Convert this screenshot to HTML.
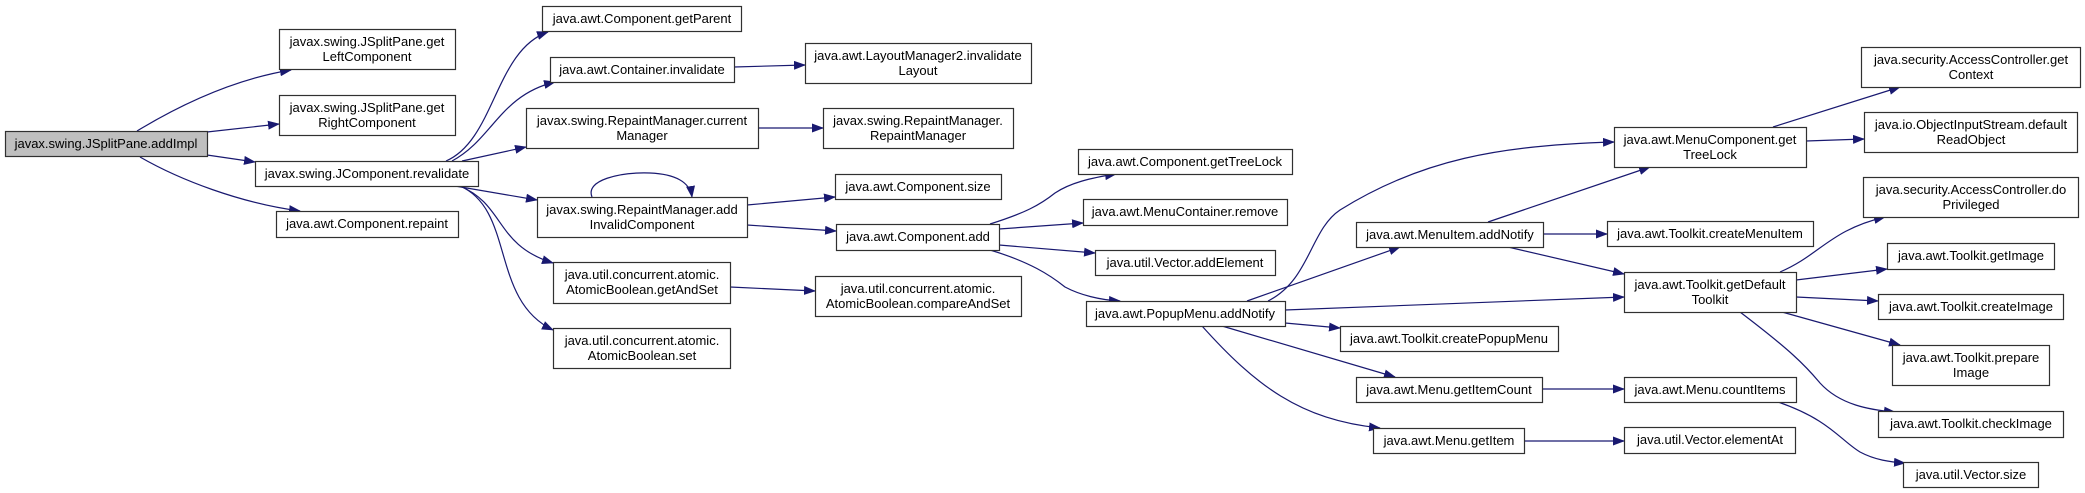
<!DOCTYPE html>
<html><head><meta charset="utf-8"><style>
html,body{margin:0;padding:0;background:#fff;}
svg{display:block;}
text{font-family:"Liberation Sans",Arial,sans-serif;font-size:13px;fill:#000;}
</style></head><body>
<svg width="2085" height="493" viewBox="0 0 2085 493" xmlns="http://www.w3.org/2000/svg">
<defs>
<marker id="a" markerUnits="userSpaceOnUse" markerWidth="12" markerHeight="9" refX="11" refY="4.5" orient="auto">
<path d="M0,0 L12,4.5 L0,9 z" fill="#191970"/>
</marker>
</defs>
<g fill="none" stroke="#191970" stroke-width="1.2" marker-end="url(#a)">
<path d="M137,131 C175,108 230,80 291,70"/>
<path d="M207,132 L279,124"/>
<path d="M207,155 L255,162"/>
<path d="M140,157 C180,180 240,203 300,211"/>
<path d="M446,161 C495,140 495,50 548,32"/>
<path d="M452,161 C492,140 500,95 555,82"/>
<path d="M462,161 L526,147"/>
<path d="M592,197 C585,180 620,172 650,173 C675,174 690,182 692,197"/>
<path d="M455,186 L537,200"/>
<path d="M460,186 C505,205 495,245 553,263"/>
<path d="M460,186 C515,210 490,300 553,330"/>
<path d="M734,67 L805,65"/>
<path d="M758,128 L823,128"/>
<path d="M747,205 L835,197"/>
<path d="M747,225 L836,231"/>
<path d="M730,287 L815,291"/>
<path d="M990,224 C1025,213 1040,205 1055,193 C1070,183 1090,178 1116,174"/>
<path d="M999,229 L1083,223"/>
<path d="M999,245 L1095,253"/>
<path d="M990,250 C1030,262 1050,275 1065,287 C1080,295 1100,300 1120,301"/>
<path d="M1268,301 C1310,280 1310,230 1340,210 C1420,160 1500,145 1614,142"/>
<path d="M1247,301 L1400,247"/>
<path d="M1285,310 L1624,297"/>
<path d="M1285,323 L1340,328"/>
<path d="M1222,326 L1395,377"/>
<path d="M1202,326 C1255,385 1300,420 1380,428"/>
<path d="M1488,222 L1650,167"/>
<path d="M1543,234 L1607,234"/>
<path d="M1508,247 L1624,274"/>
<path d="M1773,127 L1900,87"/>
<path d="M1806,141 L1864,139"/>
<path d="M1780,272 C1820,255 1830,230 1885,217"/>
<path d="M1796,280 L1887,269"/>
<path d="M1796,297 L1878,301"/>
<path d="M1782,312 L1900,345"/>
<path d="M1740,312 C1790,350 1805,365 1820,383 C1840,405 1870,410 1895,412"/>
<path d="M1778,402 C1830,420 1840,440 1860,452 C1875,460 1890,462 1905,463"/>
<path d="M1542,389 L1624,389"/>
<path d="M1524,441 L1624,441"/>
</g>
<g stroke="#303030" stroke-width="1.2" fill="#fff">
<rect x="5.5" y="131.5" width="202" height="25" fill="#bfbfbf"/>
<rect x="279.5" y="29.5" width="176" height="40"/>
<rect x="279.5" y="95.5" width="176" height="40"/>
<rect x="255.5" y="161.5" width="223" height="25"/>
<rect x="276.5" y="211.5" width="182" height="26"/>
<rect x="542.5" y="6.5" width="199" height="25"/>
<rect x="550.5" y="57.5" width="184" height="25"/>
<rect x="526.5" y="108.5" width="232" height="40"/>
<rect x="537.5" y="197.5" width="210" height="40"/>
<rect x="553.5" y="262.5" width="177" height="41"/>
<rect x="553.5" y="328.5" width="177" height="40"/>
<rect x="805.5" y="43.5" width="226" height="40"/>
<rect x="823.5" y="108.5" width="190" height="40"/>
<rect x="835.5" y="174.5" width="166" height="25"/>
<rect x="836.5" y="224.5" width="163" height="26"/>
<rect x="815.5" y="276.5" width="206" height="40"/>
<rect x="1078.5" y="149.5" width="214" height="25"/>
<rect x="1083.5" y="199.5" width="204" height="26"/>
<rect x="1095.5" y="250.5" width="180" height="25"/>
<rect x="1086.5" y="301.5" width="199" height="25"/>
<rect x="1356.5" y="222.5" width="187" height="25"/>
<rect x="1340.5" y="326.5" width="218" height="25"/>
<rect x="1356.5" y="377.5" width="186" height="25"/>
<rect x="1373.5" y="428.5" width="151" height="25"/>
<rect x="1614.5" y="127.5" width="192" height="40"/>
<rect x="1607.5" y="221.5" width="206" height="25"/>
<rect x="1624.5" y="272.5" width="172" height="40"/>
<rect x="1624.5" y="377.5" width="172" height="25"/>
<rect x="1624.5" y="427.5" width="171" height="26"/>
<rect x="1861.5" y="47.5" width="219" height="40"/>
<rect x="1864.5" y="112.5" width="213" height="40"/>
<rect x="1863.5" y="177.5" width="215" height="40"/>
<rect x="1887.5" y="243.5" width="167" height="26"/>
<rect x="1878.5" y="294.5" width="185" height="25"/>
<rect x="1892.5" y="345.5" width="157" height="40"/>
<rect x="1878.5" y="411.5" width="185" height="26"/>
<rect x="1903.5" y="462.5" width="135" height="25"/>
</g>
<g text-anchor="middle">
<text x="106" y="148">javax.swing.JSplitPane.addImpl</text>
<text x="367" y="46">javax.swing.JSplitPane.get</text><text x="367" y="61">LeftComponent</text>
<text x="367" y="112">javax.swing.JSplitPane.get</text><text x="367" y="127">RightComponent</text>
<text x="367" y="178">javax.swing.JComponent.revalidate</text>
<text x="367" y="228">java.awt.Component.repaint</text>
<text x="642" y="23">java.awt.Component.getParent</text>
<text x="642" y="74">java.awt.Container.invalidate</text>
<text x="642" y="125">javax.swing.RepaintManager.current</text><text x="642" y="140">Manager</text>
<text x="642" y="214">javax.swing.RepaintManager.add</text><text x="642" y="229">InvalidComponent</text>
<text x="642" y="279">java.util.concurrent.atomic.</text><text x="642" y="294">AtomicBoolean.getAndSet</text>
<text x="642" y="345">java.util.concurrent.atomic.</text><text x="642" y="360">AtomicBoolean.set</text>
<text x="918" y="60">java.awt.LayoutManager2.invalidate</text><text x="918" y="75">Layout</text>
<text x="918" y="125">javax.swing.RepaintManager.</text><text x="918" y="140">RepaintManager</text>
<text x="918" y="191">java.awt.Component.size</text>
<text x="918" y="241">java.awt.Component.add</text>
<text x="918" y="293">java.util.concurrent.atomic.</text><text x="918" y="308">AtomicBoolean.compareAndSet</text>
<text x="1185" y="166">java.awt.Component.getTreeLock</text>
<text x="1185" y="216">java.awt.MenuContainer.remove</text>
<text x="1185" y="267">java.util.Vector.addElement</text>
<text x="1185" y="318">java.awt.PopupMenu.addNotify</text>
<text x="1450" y="239">java.awt.MenuItem.addNotify</text>
<text x="1449" y="343">java.awt.Toolkit.createPopupMenu</text>
<text x="1449" y="394">java.awt.Menu.getItemCount</text>
<text x="1449" y="445">java.awt.Menu.getItem</text>
<text x="1710" y="144">java.awt.MenuComponent.get</text><text x="1710" y="159">TreeLock</text>
<text x="1710" y="238">java.awt.Toolkit.createMenuItem</text>
<text x="1710" y="289">java.awt.Toolkit.getDefault</text><text x="1710" y="304">Toolkit</text>
<text x="1710" y="394">java.awt.Menu.countItems</text>
<text x="1710" y="444">java.util.Vector.elementAt</text>
<text x="1971" y="64">java.security.AccessController.get</text><text x="1971" y="79">Context</text>
<text x="1971" y="129">java.io.ObjectInputStream.default</text><text x="1971" y="144">ReadObject</text>
<text x="1971" y="194">java.security.AccessController.do</text><text x="1971" y="209">Privileged</text>
<text x="1971" y="260">java.awt.Toolkit.getImage</text>
<text x="1971" y="311">java.awt.Toolkit.createImage</text>
<text x="1971" y="362">java.awt.Toolkit.prepare</text><text x="1971" y="377">Image</text>
<text x="1971" y="428">java.awt.Toolkit.checkImage</text>
<text x="1971" y="479">java.util.Vector.size</text>
</g>
</svg>
</body></html>
